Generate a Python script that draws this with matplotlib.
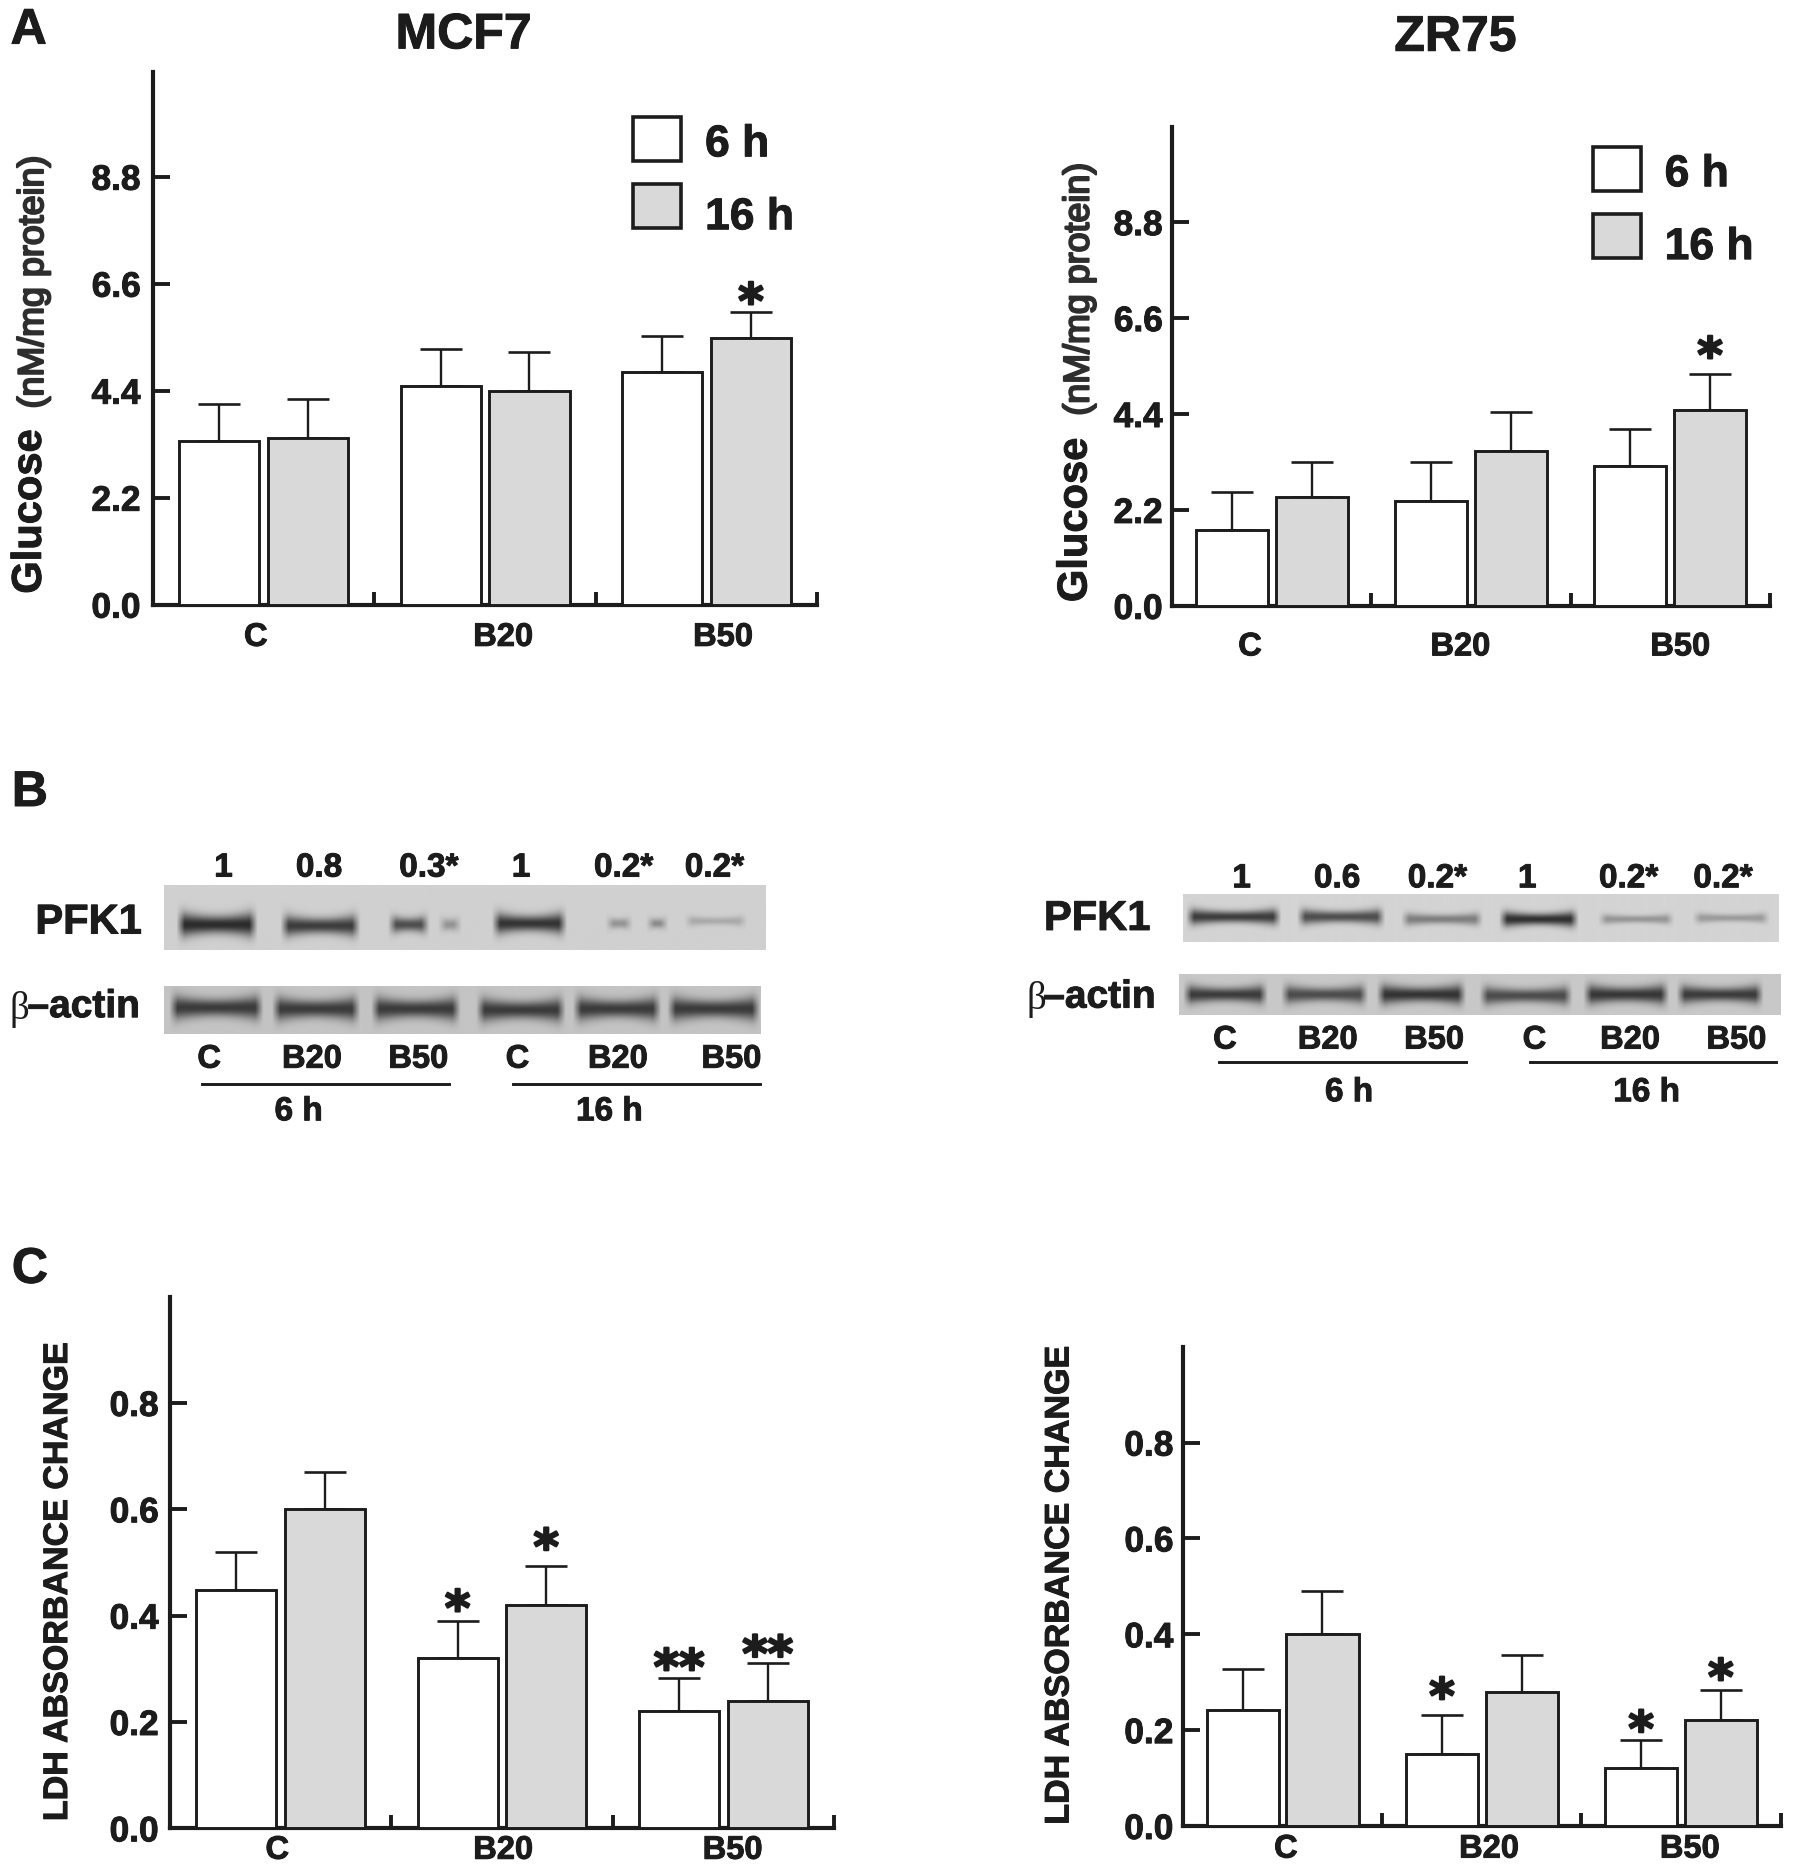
import numpy as np
import matplotlib
matplotlib.use("Agg")
import matplotlib.pyplot as plt
import matplotlib.patheffects as pe
from matplotlib.patches import Rectangle

# ---------- data ----------
groups = ["C", "B20", "B50"]
series = ["6 h", "16 h"]
glu_ticks = [0.0, 2.2, 4.4, 6.6, 8.8]
ldh_ticks = [0.0, 0.2, 0.4, 0.6, 0.8]

mcf_glu_6 = [3.37, 4.50, 4.79]
mcf_glu_6_top = [4.13, 5.26, 5.53]
mcf_glu_16 = [3.42, 4.40, 5.48]
mcf_glu_16_top = [4.23, 5.19, 6.02]

zr_glu_6 = [1.73, 2.41, 3.20]
zr_glu_6_top = [2.60, 3.29, 4.05]
zr_glu_16 = [2.49, 3.56, 4.49]
zr_glu_16_top = [3.29, 4.44, 5.32]

mcf_ldh_6 = [0.449, 0.32, 0.22]
mcf_ldh_6_top = [0.519, 0.39, 0.283]
mcf_ldh_16 = [0.60, 0.42, 0.24]
mcf_ldh_16_top = [0.67, 0.494, 0.31]

zr_ldh_6 = [0.242, 0.15, 0.12]
zr_ldh_6_top = [0.327, 0.232, 0.18]
zr_ldh_16 = [0.40, 0.28, 0.222]
zr_ldh_16_top = [0.49, 0.357, 0.284]

# ---------- layout helpers (reference view units) ----------
VW, VH = 1795 / 1.195, 1873 / 1.195
plt.rcParams["font.family"] = ["Liberation Sans", "DejaVu Sans"]
fig = plt.figure(figsize=(17.95, 18.73), dpi=100, facecolor="white")
INK = "#1c1c1c"
GREY = "#d9d9d9"
FAT = [pe.withStroke(linewidth=0.7, foreground=INK)]


def T(x, y, s, size=24, weight="bold", ha="center", va="center", rot=0, color=INK, family=None, fat=0.7):
    kw = {"family": family} if family else {}
    if rot == 0:
        y = y + 0.1 * size
    t = fig.text(x / VW, 1 - y / VH, s, fontsize=size, fontweight=weight, ha=ha, va=va,
                 rotation=rot, color=color, **kw)
    if fat:
        t.set_path_effects([pe.withStroke(linewidth=fat, foreground=color)])
    return t


def bar_chart(x0, x1, y0, ytop, ymax, ticks, fmt, v6, t6, v16, t16, pad, stars6, stars16):
    ax = fig.add_axes([x0 / VW, 1 - y0 / VH, (x1 - x0) / VW, (y0 - ytop) / VH])
    ax.patch.set_alpha(0)
    ax.set_xlim(0, 3)
    ax.set_ylim(0, ymax)
    for s in ("top", "right"):
        ax.spines[s].set_visible(False)
    for s in ("left", "bottom"):
        ax.spines[s].set_linewidth(3.0)
        ax.spines[s].set_color(INK)
    idx = np.arange(3)
    for off, vals, tops, col, st in ((0.30, v6, t6, "white", stars6), (0.70, v16, t16, GREY, stars16)):
        xs = idx + off
        ax.bar(xs, vals, width=0.362, color=col, edgecolor=INK, linewidth=2.1, zorder=3)
        err = np.array(tops) - np.array(vals)
        ax.errorbar(xs, vals, yerr=[np.zeros(3), err], fmt="none", ecolor=INK, elinewidth=1.7,
                    capsize=15, capthick=1.9, zorder=1)
        for x, tp, (txt, off_px) in zip(xs, tops, st):
            if txt:
                a = ax.annotate(txt, xy=(x, tp), xytext=(0, off_px), textcoords="offset pixels",
                                ha="center", va="baseline", fontsize=35, fontweight="bold",
                                family="DejaVu Sans", color=INK, annotation_clip=False, zorder=4)
                a.set_path_effects([pe.withStroke(linewidth=1.6, foreground=INK)])
    ax.set_yticks(ticks)
    ax.set_yticklabels([fmt % t for t in ticks], fontsize=25.4, fontweight="bold", color=INK)
    for lab in ax.get_yticklabels():
        lab.set_path_effects(FAT)
    ax.set_xticks([1, 2, 3])
    ax.set_xticklabels([])
    ax.tick_params(axis="y", direction="in", length=12, width=2.8, pad=pad, color=INK)
    ax.tick_params(axis="x", direction="in", length=9.5, width=2.8, color=INK)
    return ax


def legend(x, y1, y2, tx, ty1, ty2):
    for y, col, lab, ty in ((y1, "white", series[0], ty1), (y2, GREY, series[1], ty2)):
        fig.add_artist(Rectangle((x / VW, 1 - (y + 37) / VH), 40 / VW, 37 / VH, transform=fig.transFigure,
                                 facecolor=col, edgecolor=INK, linewidth=2.6))
        T(tx, ty, lab, size=32, ha="left")


NONE = [("", 0)] * 3
bar_chart(128, 684, 506, 60, 10.96, glu_ticks, "%.1f", mcf_glu_6, mcf_glu_6_top, mcf_glu_16, mcf_glu_16_top, 9,
          NONE, [("", 0), ("", 0), ("*", -6)])
bar_chart(981, 1481, 507, 106, 10.99, glu_ticks, "%.1f", zr_glu_6, zr_glu_6_top, zr_glu_16, zr_glu_16_top, 7,
          NONE, [("", 0), ("", 0), ("*", 2)])
bar_chart(142, 698, 1530, 1085, 1.0, ldh_ticks, "%.1f", mcf_ldh_6, mcf_ldh_6_top, mcf_ldh_16, mcf_ldh_16_top, 8,
          [("", 0), ("*", -4), ("**", -6)], [("", 0), ("*", 2), ("**", -7)])
bar_chart(990, 1490, 1528, 1127, 1.0, ldh_ticks, "%.1f", zr_ldh_6, zr_ldh_6_top, zr_ldh_16, zr_ldh_16_top, 7,
          [("", 0), ("*", 2), ("*", -6)], [("", 0), ("", 0), ("*", -4)])

# titles, panel letters
T(388, 26, "MCF7", size=36)
T(1218, 28, "ZR75", size=36)
T(24, 22, "A", size=36)
T(25, 660, "B", size=36)
T(25, 1059, "C", size=36)

# axis titles
T(25, 428, "Glucose", size=30, rot=90)
T(28, 236, "(nM/mg protein)", size=25.8, weight="normal", rot=90, color="#2e2e2e", fat=1.5)
T(900, 435, "Glucose", size=30, rot=90)
T(903, 242, "(nM/mg protein)", size=25.8, weight="normal", rot=90, color="#2e2e2e", fat=1.5)
T(49, 1324, "LDH ABSORBANCE CHANGE", size=24.5, rot=90)
T(887, 1327, "LDH ABSORBANCE CHANGE", size=24.5, rot=90)

# group labels
for (xs, y) in (((214, 421, 605), 531), ((1046, 1222, 1406), 539), ((232, 421, 613), 1546), ((1076, 1246, 1414), 1545)):
    for x, g in zip(xs, groups):
        T(x, y, g, size=23.5)

legend(530, 98, 154, 590, 118, 179)
legend(1333, 123, 179, 1393, 143, 204)


# ---------- blots ----------
def blot(x0, x1, y0, y1, bg, bands):
    w, h = int((x1 - x0) * 1.2), int((y1 - y0) * 1.2)
    xx, yy = np.meshgrid(np.linspace(x0, x1, w), np.linspace(y0, y1, h))
    img = np.full((h, w), float(bg))
    for (a, b, yc, t, d) in bands:
        a, b = a - 3, b + 3
        sx = np.clip((xx - a) / 7.0, 0, 1) * np.clip((b - xx) / 7.0, 0, 1)
        mid, half = (a + b) / 2, (b - a) / 2
        tw = t * (0.8 + 0.45 * ((xx - mid) / half) ** 2)
        prof = np.exp(-np.abs((yy - yc) / tw) ** 2.0)
        img = img - (bg - 35) * d * sx * prof
    ax = fig.add_axes([x0 / VW, 1 - y1 / VH, (x1 - x0) / VW, (y1 - y0) / VH])
    ax.imshow(img, cmap="gray", vmin=0, vmax=255, aspect="auto", interpolation="bilinear")
    ax.axis("off")


y = 774
blot(137, 640, 741, 795, 208, [(150, 212, y, 9, .95), (237, 298, y + 1, 8, .85), (327, 356, y, 7, .75), (369, 383, y, 6, .35),
                               (414, 471, y - 1, 8, .9), (509, 526, y - 1, 5, .35), (543, 556, y - 1, 5, .4), (575, 622, y - 3, 4, .22)])
y = 844
blot(137, 636, 825, 865, 196, [(144, 217, y - 1, 9, .85), (230, 298, y, 9, .85), (313, 382, y, 9, .85),
                               (401, 470, y + 1, 9, .85), (482, 550, y, 9, .85), (561, 633, y, 9, .85)])
y = 767
blot(990, 1488, 748, 788, 212, [(995, 1069, y, 6, .85), (1088, 1156, y, 6, .75), (1175, 1238, y + 2, 5, .48),
                                (1257, 1318, y + 2, 6, .92), (1340, 1398, y + 2, 4, .35), (1419, 1478, y + 1, 4, .32)])
y = 832
blot(987, 1490, 815, 849, 200, [(993, 1058, y, 7, .85), (1075, 1142, y, 7, .75), (1155, 1224, y, 7.5, .9),
                                (1241, 1313, y + 1, 7, .75), (1328, 1394, y, 7.5, .88), (1406, 1473, y, 7, .85)])

# blot text
T(74, 769, "PFK1", size=30)
T(918, 766, "PFK1", size=30)
for bx, ax_x, y in ((8, 23, 840), (859, 873, 832)):
    T(bx, y + 2, "β", size=28, weight="normal", ha="left", family="Liberation Serif", fat=0)
    T(ax_x, y, "–actin", size=28, ha="left")

for xs, y, labs in (((187, 267, 359, 436, 522, 598), 724, ("1", "0.8", "0.3*", "1", "0.2*", "0.2*")),
                    ((1039, 1119, 1203, 1278, 1363, 1442), 733, ("1", "0.6", "0.2*", "1", "0.2*", "0.2*"))):
    for x, s in zip(xs, labs):
        T(x, y, s, size=24)

for xs, y in (((175, 261, 350, 433, 517, 612), 884), ((1025, 1111, 1200, 1284, 1364, 1453), 868)):
    for x, g in zip(xs, groups * 2):
        T(x, y, g, size=23.5)

for (a, b, y) in ((169, 376, 907), (429, 636, 907), (1020, 1227, 889), (1280, 1486, 889)):
    fig.add_artist(plt.Line2D([a / VW, b / VW], [1 - y / VH, 1 - y / VH], transform=fig.transFigure, color=INK, lw=2.1))

T(250, 928, series[0], size=24)
T(510, 928, series[1], size=24)
T(1129, 912, series[0], size=24)
T(1378, 912, series[1], size=24)

fig.savefig("out.png", dpi=100, facecolor="white")
